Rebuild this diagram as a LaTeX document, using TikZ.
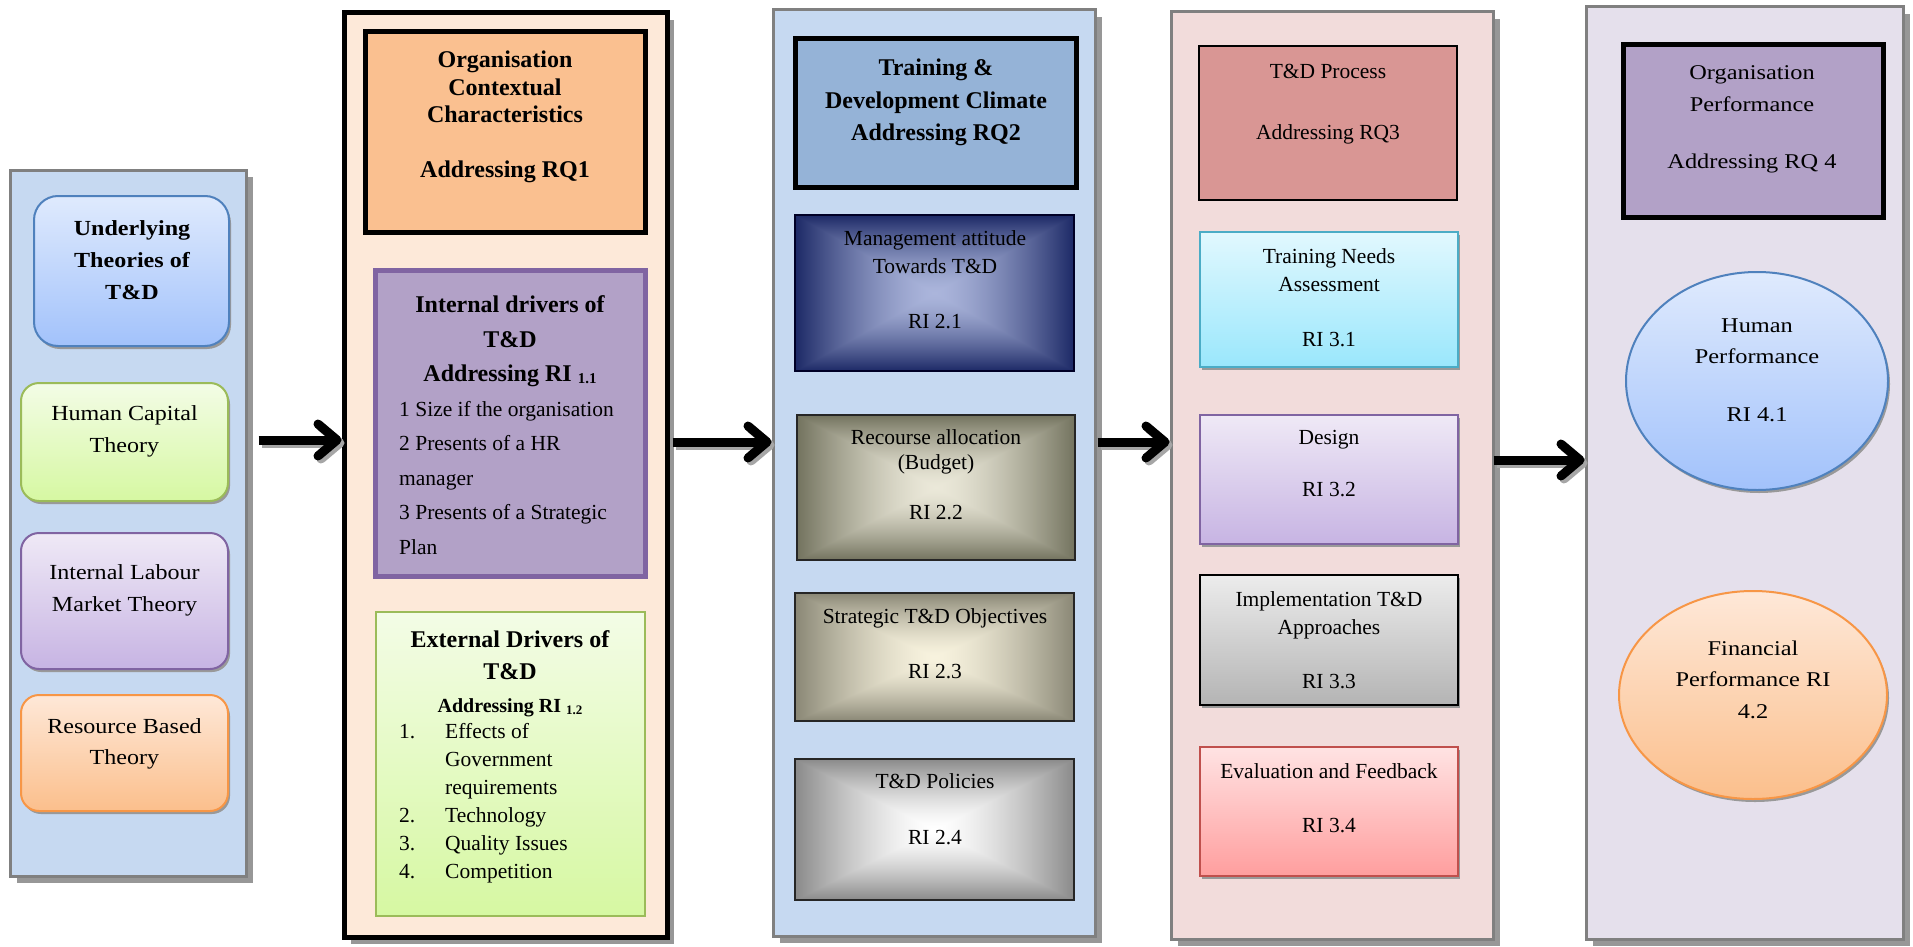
\documentclass[tikz,border=0pt]{standalone}
\usepackage{fontspec}
\setmainfont{Liberation Serif}
\newfontfamily\widefont[FakeStretch=1.12]{Liberation Serif}
\newfontfamily\widerfont[FakeStretch=1.16]{Liberation Serif}
\usetikzlibrary{shadows,arrows.meta,shapes.geometric,calc}

\definecolor{pblue}{HTML}{C6D9F1}
\definecolor{pgrayline}{HTML}{808080}
\definecolor{shgray}{HTML}{979797}
\definecolor{ppeach}{HTML}{FDE9D9}
\definecolor{occfill}{HTML}{FAC090}
\definecolor{lavfill}{HTML}{B2A1C7}
\definecolor{lavline}{HTML}{8064A2}
\definecolor{grnline}{HTML}{9BBB59}
\definecolor{grntop}{HTML}{F3FCE6}
\definecolor{grnbot}{HTML}{D6F8A2}
\definecolor{tdcfill}{HTML}{95B3D7}
\definecolor{ppink}{HTML}{F2DCDB}
\definecolor{prfill}{HTML}{D99694}
\definecolor{cyntop}{HTML}{E1F8FE}
\definecolor{cynbot}{HTML}{9AE7FC}
\definecolor{cynline}{HTML}{4BACC6}
\definecolor{purtop}{HTML}{EFE9F6}
\definecolor{purbot}{HTML}{C7B4E3}
\definecolor{grytop}{HTML}{ECECEC}
\definecolor{grybot}{HTML}{B4B4B4}
\definecolor{redtop}{HTML}{FFE3E3}
\definecolor{redbot}{HTML}{FF9E9E}
\definecolor{redline}{HTML}{C0504D}
\definecolor{plav}{HTML}{E5E0EC}
\definecolor{blutop}{HTML}{DFEAFD}
\definecolor{blubot}{HTML}{A2C2FB}
\definecolor{bluline}{HTML}{4F81BD}
\definecolor{orgtop}{HTML}{FEE8D8}
\definecolor{orgbot}{HTML}{FBBF8C}
\definecolor{orgline}{HTML}{F79646}

\pgfdeclarefunctionalshading{navyrect}{\pgfpoint{-50bp}{-50bp}}{\pgfpoint{50bp}{50bp}}{}{
abs exch abs 2 copy lt {exch} if pop 25 div dup 1 gt {pop 1} if dup sqrt mul
dup -0.56 mul 0.67 add exch dup -0.55 mul 0.71 add exch -0.46 mul 0.86 add
}
\pgfdeclarefunctionalshading{tanrect}{\pgfpoint{-50bp}{-50bp}}{\pgfpoint{50bp}{50bp}}{}{
abs exch abs 2 copy lt {exch} if pop 25 div dup 1 gt {pop 1} if dup sqrt mul
dup -0.47 mul 0.92 add exch dup -0.46 mul 0.91 add exch -0.48 mul 0.85 add
}
\pgfdeclarefunctionalshading{creamrect}{\pgfpoint{-50bp}{-50bp}}{\pgfpoint{50bp}{50bp}}{}{
abs exch abs 2 copy lt {exch} if pop 25 div dup 1 gt {pop 1} if dup sqrt mul
dup -0.43 mul 0.97 add exch dup -0.42 mul 0.95 add exch -0.41 mul 0.87 add
}
\pgfdeclarefunctionalshading{grayrect}{\pgfpoint{-50bp}{-50bp}}{\pgfpoint{50bp}{50bp}}{}{
abs exch abs 2 copy lt {exch} if pop 25 div dup 1 gt {pop 1} if dup sqrt mul
dup -0.46 mul 1 add exch dup -0.46 mul 1 add exch -0.46 mul 1 add
}

\begin{document}
\begin{tikzpicture}[x=1pt,y=-1pt,
  panel/.style={rectangle, inner sep=0pt, draw=pgrayline, line width=3pt},
  pshadow/.style={drop shadow={shadow xshift=7pt, shadow yshift=-7pt, fill=shgray, opacity=1}},
  sshadow/.style={drop shadow={shadow xshift=2pt, shadow yshift=-3pt, fill=black!40, opacity=1}},
  box/.style={rectangle, inner sep=0pt},
  txt/.style={inner sep=0pt, align=center},
  ltxt/.style={inner sep=0pt, align=left, anchor=west},
  nrm/.style={font=\fontsize{21.5}{28}\selectfont},
  hdr/.style={font=\fontsize{24}{32.5}\bfseries\selectfont},
  bigarrow/.style={line width=9pt, -{Straight Barb[length=19pt,width=32pt,round]}},
  arrowshade/.style={bigarrow, draw=black!35, transform canvas={xshift=3pt,yshift=-3pt}}
]
\useasboundingbox (0,0) rectangle (1913,947);

% ---------- panels ----------
\node[panel, pshadow, fill=pblue, minimum width=236pt, minimum height=706pt] (p1) at (128,523) {};
\node[panel, pshadow, fill=ppeach, draw=black, line width=5pt, minimum width=323pt, minimum height=924pt] (p2) at (505.5,475) {};
\node[panel, pshadow, fill=pblue, minimum width=322pt, minimum height=926pt] (p3) at (934,473) {};
\node[panel, pshadow, fill=ppink, minimum width=322pt, minimum height=927pt] (p4) at (1332,475.5) {};
\node[panel, pshadow, fill=plav, minimum width=317pt, minimum height=932pt] (p5) at (1744.5,473) {};

% ---------- column 1 ----------
\node[box, sshadow, rounded corners=24pt, top color=blutop, bottom color=blubot, draw=bluline, line width=2pt,
  minimum width=195pt, minimum height=150pt] (t0) at (131.5,271) {};
\node[box, sshadow, rounded corners=18pt, top color=grntop, bottom color=grnbot, draw=grnline, line width=2pt,
  minimum width=207pt, minimum height=118pt] (t1) at (124.5,442) {};
\node[box, sshadow, rounded corners=18pt, top color=purtop, bottom color=purbot, draw=lavline, line width=2pt,
  minimum width=207pt, minimum height=136pt] (t2) at (124.5,601) {};
\node[box, sshadow, rounded corners=18pt, top color=orgtop, bottom color=orgbot, draw=orgline, line width=2pt,
  minimum width=207pt, minimum height=116pt] (t3) at (124.5,753) {};
\node[txt, font=\widefont\fontsize{21.5}{32}\bfseries\selectfont] (t0t) at (132,260) {Underlying\\Theories of\\T\&D};
\node[txt, font=\widefont\fontsize{21.5}{32}\selectfont] (t1t) at (124.5,431) {Human Capital\\Theory};
\node[txt, font=\widefont\fontsize{21.5}{32}\selectfont] (t2t) at (124.5,590) {Internal Labour\\Market Theory};
\node[txt, font=\widefont\fontsize{21.5}{31}\selectfont] (t3t) at (124.5,743.5) {Resource Based\\Theory};

% ---------- column 2 ----------
\node[box, fill=occfill, draw=black, line width=5pt, minimum width=280pt, minimum height=200pt] (occ) at (505,132) {};
\node[txt, font=\fontsize{24}{27.5}\bfseries\selectfont] (occt) at (505,117) {Organisation\\Contextual\\Characteristics\\[27.5pt]Addressing RQ1};

\node[box, fill=lavfill, draw=lavline, line width=5pt, minimum width=270pt, minimum height=306pt] (idr) at (510,423) {};
\node[txt, font=\fontsize{24}{34.5}\bfseries\selectfont] (idrh) at (510,341.5) {Internal drivers of\\T\&D\\Addressing RI \raisebox{-2pt}{\fontsize{15}{15}\selectfont 1.1}};
\node[ltxt, font=\fontsize{21.5}{34.5}\selectfont] (idrl) at (399,478) {1 Size if the organisation\\2 Presents of a HR\\manager\\3 Presents of a Strategic\\Plan};

\node[box, top color=grntop, bottom color=grnbot, draw=grnline, line width=2pt, minimum width=269pt, minimum height=304pt] (edr) at (510.5,764) {};
\node[txt, font=\fontsize{24}{32.5}\bfseries\selectfont] (edrh) at (510,673.5) {External Drivers of\\T\&D\\{\fontsize{20}{32.5}\selectfont Addressing RI \raisebox{-2pt}{\fontsize{13}{13}\selectfont 1.2}}};
\node[ltxt, font=\fontsize{21.5}{28}\selectfont] (edrl) at (399,803) {\makebox[46pt][l]{1.}Effects of\\\hspace*{46pt}Government\\\hspace*{46pt}requirements\\\makebox[46pt][l]{2.}Technology\\\makebox[46pt][l]{3.}Quality Issues\\\makebox[46pt][l]{4.}Competition};

% ---------- column 3 ----------
\node[box, fill=tdcfill, draw=black, line width=5pt, minimum width=281pt, minimum height=148pt] (tdc) at (935.5,113) {};
\node[txt, hdr] (tdct) at (936,102.5) {Training \&\\Development Climate\\Addressing RQ2};

\node[box, shading=navyrect, draw=black!85!blue, line width=1.5pt, minimum width=279pt, minimum height=156pt] (mg) at (934.5,293) {};
\node[txt, nrm] (mgt) at (935,279.5) {Management attitude\\Towards T\&D\\[27pt]RI 2.1};

\node[box, shading=tanrect, draw=black!85, line width=1.5pt, minimum width=278pt, minimum height=145pt] (ra) at (936,487.5) {};
\node[txt, font=\fontsize{21.5}{25}\selectfont] (rat) at (936,474.5) {Recourse allocation\\(Budget)\\[25pt]RI 2.2};

\node[box, shading=creamrect, draw=black!85, line width=1.5pt, minimum width=279pt, minimum height=128pt] (so) at (934.5,657) {};
\node[txt, nrm] (sot) at (935,643.5) {Strategic T\&D Objectives\\[27pt]RI 2.3};

\node[box, shading=grayrect, draw=black!85, line width=1.5pt, minimum width=279pt, minimum height=141pt] (po) at (934.5,829.5) {};
\node[txt, nrm] (pot) at (935,809) {T\&D Policies\\[28pt]RI 2.4};

% ---------- column 4 ----------
\node[box, fill=prfill, draw=black, line width=1.5pt, minimum width=258pt, minimum height=154pt] (pr) at (1328,123) {};
\node[txt, nrm] (prt) at (1328,104) {T\&D Process\\[33pt]Addressing RQ3};

\node[box, sshadow, top color=cyntop, bottom color=cynbot, draw=cynline, line width=2pt, minimum width=258pt, minimum height=135pt] (tna) at (1329,299.5) {};
\node[txt, nrm] (tnat) at (1329,297.5) {Training Needs\\Assessment\\[27pt]RI 3.1};

\node[box, sshadow, top color=purtop, bottom color=purbot, draw=lavline, line width=2pt, minimum width=258pt, minimum height=129pt] (de) at (1329,479.5) {};
\node[txt, nrm] (det) at (1329,464) {Design\\[24pt]RI 3.2};

\node[box, sshadow, top color=grytop, bottom color=grybot, draw=black, line width=2.5pt, minimum width=258pt, minimum height=130pt] (im) at (1329,640) {};
\node[txt, nrm] (imt) at (1329,640) {Implementation T\&D\\Approaches\\[26pt]RI 3.3};

\node[box, sshadow, top color=redtop, bottom color=redbot, draw=redline, line width=2pt, minimum width=258pt, minimum height=129pt] (ev) at (1329,811.5) {};
\node[txt, nrm] (evt) at (1329,798) {Evaluation and Feedback\\[26pt]RI 3.4};

% ---------- column 5 ----------
\node[box, fill=lavfill, draw=black, line width=5pt, minimum width=260pt, minimum height=172pt] (op) at (1753,131) {};
\node[txt, font=\widerfont\fontsize{21}{32}\selectfont] (opt) at (1752,119.5) {Organisation\\Performance\\[25pt]Addressing RQ 4};

\node[ellipse, inner sep=0pt, sshadow, top color=blutop, bottom color=blubot, draw=bluline, line width=2pt, minimum width=262pt, minimum height=218pt] (hp) at (1757,381) {};
\node[txt, font=\widerfont\fontsize{21}{31}\selectfont] (hpt) at (1757,370.5) {Human\\Performance\\[27pt]RI 4.1};

\node[ellipse, inner sep=0pt, sshadow, top color=orgtop, bottom color=orgbot, draw=orgline, line width=2pt, minimum width=268pt, minimum height=208pt] (fp) at (1753,695) {};
\node[txt, font=\widerfont\fontsize{21}{31.5}\selectfont] (fpt) at (1753,679.5) {Financial\\Performance RI\\4.2};

% ---------- arrows ----------
\coordinate (ya) at (0,440);
\coordinate (yb) at (0,442);
\coordinate (yc) at (0,460);
\draw[arrowshade] ($(p1.east |- ya)+(11,0)$) -- (p2.west |- ya);
\draw[bigarrow] ($(p1.east |- ya)+(11,0)$) -- (p2.west |- ya);
\draw[arrowshade] ($(p2.east |- yb)+(3,0)$) -- (p3.west |- yb);
\draw[bigarrow] ($(p2.east |- yb)+(3,0)$) -- (p3.west |- yb);
\draw[arrowshade] ($(p3.east |- yb)+(1,0)$) -- (p4.west |- yb);
\draw[bigarrow] ($(p3.east |- yb)+(1,0)$) -- (p4.west |- yb);
\draw[arrowshade] ($(p4.east |- yc)+(-1,0)$) -- (p5.west |- yc);
\draw[bigarrow] ($(p4.east |- yc)+(-1,0)$) -- (p5.west |- yc);
\end{tikzpicture}
\end{document}
